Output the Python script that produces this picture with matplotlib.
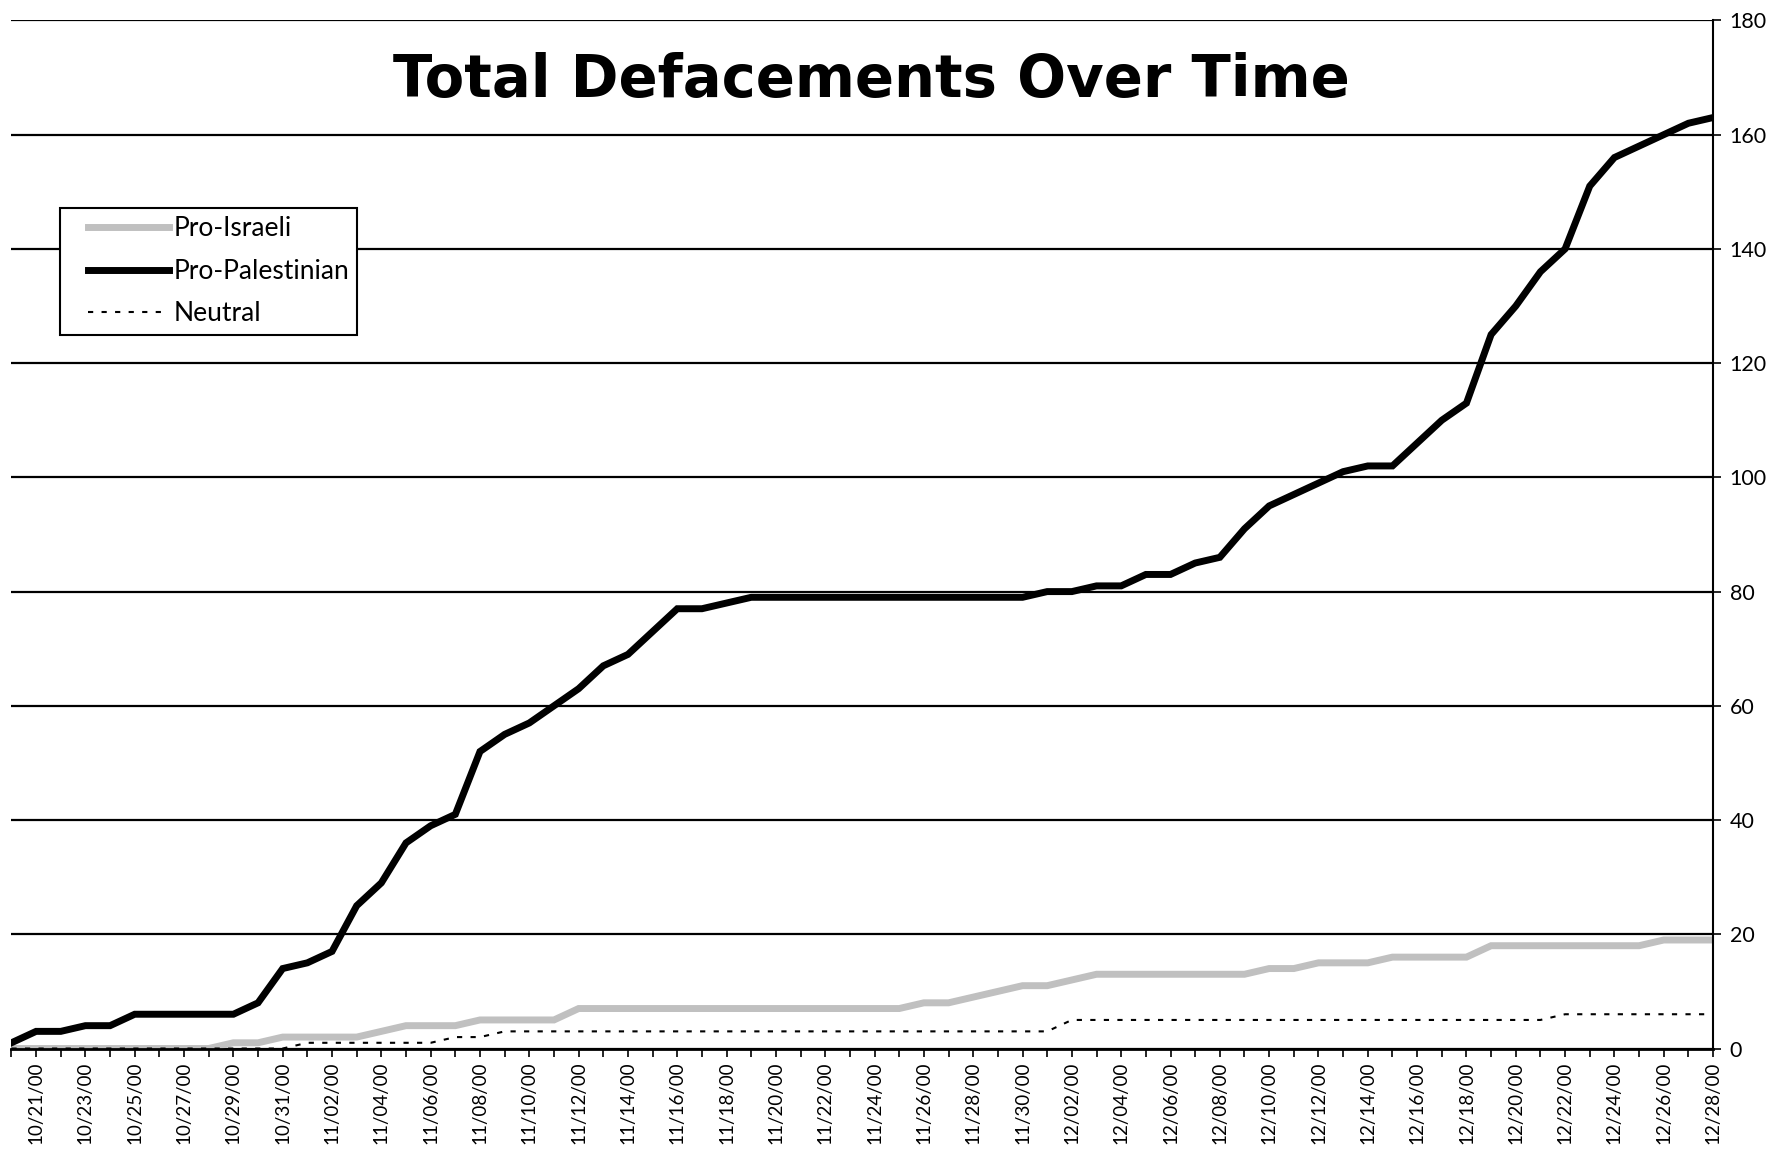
import numpy as np
import matplotlib.pyplot as plt
from matplotlib.legend_handler import HandlerLine2D

# daily totals, 10/20/00 .. 12/28/00
dates = ['10/20/00', '10/21/00', '10/22/00', '10/23/00', '10/24/00', '10/25/00', '10/26/00',
         '10/27/00', '10/28/00', '10/29/00', '10/30/00', '10/31/00', '11/01/00', '11/02/00',
         '11/03/00', '11/04/00', '11/05/00', '11/06/00', '11/07/00', '11/08/00', '11/09/00',
         '11/10/00', '11/11/00', '11/12/00', '11/13/00', '11/14/00', '11/15/00', '11/16/00',
         '11/17/00', '11/18/00', '11/19/00', '11/20/00', '11/21/00', '11/22/00', '11/23/00',
         '11/24/00', '11/25/00', '11/26/00', '11/27/00', '11/28/00', '11/29/00', '11/30/00',
         '12/01/00', '12/02/00', '12/03/00', '12/04/00', '12/05/00', '12/06/00', '12/07/00',
         '12/08/00', '12/09/00', '12/10/00', '12/11/00', '12/12/00', '12/13/00', '12/14/00',
         '12/15/00', '12/16/00', '12/17/00', '12/18/00', '12/19/00', '12/20/00', '12/21/00',
         '12/22/00', '12/23/00', '12/24/00', '12/25/00', '12/26/00', '12/27/00', '12/28/00']

pro_israeli = [0, 0, 0, 0, 0, 0, 0, 0, 0, 1, 1, 2, 2, 2, 2, 3, 4, 4, 4, 5,
               5, 5, 5, 7, 7, 7, 7, 7, 7, 7, 7, 7, 7, 7, 7, 7, 7, 8, 8, 9,
               10, 11, 11, 12, 13, 13, 13, 13, 13, 13, 13, 14, 14, 15, 15, 15, 16, 16, 16, 16,
               18, 18, 18, 18, 18, 18, 18, 19, 19, 19]

pro_palestinian = [1, 3, 3, 4, 4, 6, 6, 6, 6, 6, 8, 14, 15, 17, 25, 29, 36, 39, 41, 52,
                   55, 57, 60, 63, 67, 69, 73, 77, 77, 78, 79, 79, 79, 79, 79, 79, 79, 79, 79, 79,
                   79, 79, 80, 80, 81, 81, 83, 83, 85, 86, 91, 95, 97, 99, 101, 102, 102, 106, 110, 113,
                   125, 130, 136, 140, 151, 156, 158, 160, 162, 163]

neutral = [0, 0, 0, 0, 0, 0, 0, 0, 0, 0, 0, 0, 1, 1, 1, 1, 1, 1, 2, 2,
           3, 3, 3, 3, 3, 3, 3, 3, 3, 3, 3, 3, 3, 3, 3, 3, 3, 3, 3, 3,
           3, 3, 3, 5, 5, 5, 5, 5, 5, 5, 5, 5, 5, 5, 5, 5, 5, 5, 5, 5,
           5, 5, 5, 6, 6, 6, 6, 6, 6, 6]


class IndentedLine(HandlerLine2D):
    # legend line that starts a bit in from the box edge, like Excel does
    def get_xdata(self, legend, xdescent, ydescent, width, height, fontsize):
        gap = 0.2 * width
        xd = np.array([-xdescent + gap, -xdescent + width])
        return xd, xd


x = np.arange(len(dates))

fig = plt.figure(figsize=(17.85, 11.55), dpi=100)
ax = fig.add_axes([0.0064, 0.0922, 0.9533, 0.8901])

ax.plot(x, pro_israeli, color='#c0c0c0', lw=5, label='Pro-Israeli', solid_joinstyle='miter')
ax.plot(x, pro_palestinian, color='black', lw=5, label='Pro-Palestinian', solid_joinstyle='miter')
ax.plot(x, neutral, color='black', lw=1.5, ls=(0, (2.5, 4)), label='Neutral')

ax.set_xlim(0, len(dates) - 1)
ax.set_ylim(0, 180)
ax.set_yticks(np.arange(0, 181, 20))
ax.yaxis.tick_right()
ax.grid(axis='y', color='black', lw=1.6)
ax.set_axisbelow(True)

ax.set_xticks(x, minor=True)
ax.set_xticks(x[1::2])
ax.set_xticklabels(dates[1::2], rotation=90, fontsize=13.5, family='Lato')
ax.tick_params(axis='x', which='both', length=6, width=1.2, direction='out')
ax.tick_params(axis='y', length=6, width=1.2, labelsize=15.5, pad=6)
for lab in ax.get_yticklabels():
    lab.set_family('Lato')

for s in ['left', 'top']:
    ax.spines[s].set_visible(False)
ax.spines['bottom'].set_linewidth(2)
ax.spines['right'].set_linewidth(1.5)

fig.text(0.488, 0.93, 'Total Defacements Over Time', ha='center', va='center',
         fontsize=41.5, fontweight='bold')

leg = ax.legend(loc='upper left', bbox_to_anchor=(0.0336, 0.82), bbox_transform=fig.transFigure,
                borderaxespad=0, fancybox=False, framealpha=1, edgecolor='black',
                handlelength=3.8, handletextpad=0.17, borderpad=0.32, labelspacing=0.66,
                handler_map={plt.Line2D: IndentedLine()},
                prop={'family': 'Lato', 'size': 19})
leg.get_frame().set_linewidth(1.5)

fig.savefig('out.png', dpi=100)
